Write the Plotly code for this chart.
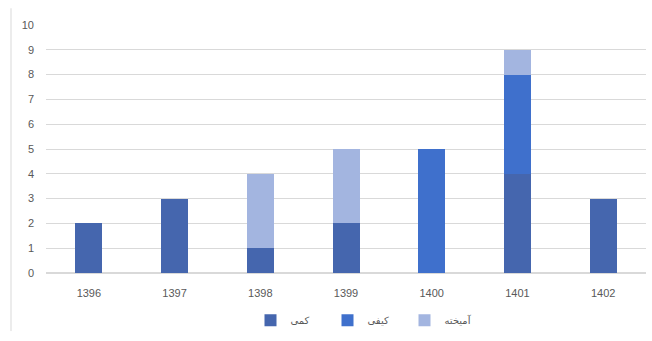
import plotly.graph_objects as go

years = ["1396", "1397", "1398", "1399", "1400", "1401", "1402"]
kammi = [2, 3, 1, 2, 0, 4, 3]      # کمی
keyfi = [0, 0, 0, 0, 5, 4, 0]      # کیفی
amikhte = [0, 0, 3, 3, 0, 1, 0]    # آمیخته
y_ticks = list(range(0, 11))

fig = go.Figure()
fig.add_trace(go.Bar(name="کمی", x=years, y=kammi, marker=dict(color="#4566ae", line=dict(width=0))))
fig.add_trace(go.Bar(name="کیفی", x=years, y=keyfi, marker=dict(color="#3f70cc", line=dict(width=0))))
fig.add_trace(go.Bar(name="آمیخته", x=years, y=amikhte, marker=dict(color="#a3b5e0", line=dict(width=0))))

W, H = 652, 341
ml, mr, mt, mb = 46, 6, 25, 64
ph = H - mt - mb
pw = W - ml - mr

fig.update_layout(
    barmode="stack",
    width=W, height=H,
    margin=dict(l=ml, r=mr, t=mt, b=mb),
    paper_bgcolor="white", plot_bgcolor="white",
    bargap=0.685,
    font=dict(family="Liberation Sans, Arial, sans-serif", color="#595959", size=11),
    showlegend=True,
    legend=dict(orientation="h", x=(366 - ml) / pw, xanchor="center",
                y=(ph + mt - 325) / ph, yanchor="middle",
                font=dict(size=10, color="#595959", family="DejaVu Sans, Noto Sans, sans-serif"),
                itemwidth=30, entrywidth=32, entrywidthmode="pixels",
                traceorder="normal", bgcolor="rgba(0,0,0,0)"),
    xaxis=dict(showgrid=False, showline=True, linecolor="#d9d9d9", linewidth=1,
               ticks="", ticklabelstandoff=10, tickfont=dict(size=11, color="#595959")),
    yaxis=dict(range=[0, 10], tickvals=y_ticks, showgrid=True, gridcolor="#d9d9d9",
               gridwidth=1, zeroline=True, zerolinecolor="#d9d9d9", showline=False,
               ticks="", ticklabelstandoff=11, tickfont=dict(size=11, color="#595959")),
)

fig.add_shape(type="line", xref="paper", yref="paper",
              x0=(11 - ml) / pw, x1=(11 - ml) / pw,
              y0=(ph + mt - 336) / ph, y1=(ph + mt - 8) / ph,
              line=dict(color="#d9d9d9", width=1))

fig.write_html("out.html")
